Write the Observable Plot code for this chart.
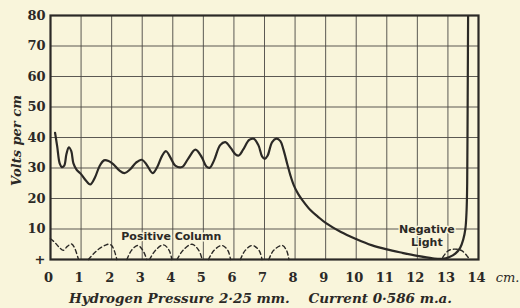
<!DOCTYPE html>
<html>
<head>
<meta charset="utf-8">
<script src="https://cdn.jsdelivr.net/npm/d3@7"></script>
<script src="https://cdn.jsdelivr.net/npm/@observablehq/plot@0.6"></script>
<style>
  html, body { margin: 0; padding: 0; background: #f9f5db; }
  #chart svg { display: block; }
</style>
</head>
<body>
<div id="chart"></div>
<script>
// Main curve: distance along tube (cm) vs volts per cm
const mainX = [0.15,0.22,0.30,0.37,0.45,0.52,0.60,0.68,0.75,0.85,1.00,1.15,1.30,1.45,1.60,1.75,1.90,2.05,2.25,2.42,2.60,2.80,2.99,3.15,3.34,3.50,3.65,3.78,3.92,4.08,4.30,4.50,4.74,4.95,5.10,5.21,5.35,5.55,5.72,5.90,6.05,6.16,6.30,6.50,6.65,6.80,6.92,7.01,7.10,7.25,7.39,7.52,7.62,7.74,7.85,7.96,8.10,8.25,8.50,8.75,9.00,9.50,10.0,10.5,11.0,11.5,12.0,12.5,12.8,13.05,13.25,13.40,13.50,13.57,13.61,13.63,13.64,13.65,13.66];
const mainV = [41.5,37.0,31.5,30.3,30.8,34.5,36.8,35.5,31.5,29.5,28.0,26.0,24.6,26.8,30.5,32.5,32.3,31.3,29.2,28.3,29.5,31.8,32.7,31.0,28.3,30.5,34.0,35.5,33.5,30.8,30.3,33.0,36.0,33.5,30.5,30.1,32.5,37.5,38.5,36.5,34.5,34.1,36.0,39.2,39.6,37.5,33.8,33.0,34.0,38.5,39.6,38.8,36.0,31.5,27.5,24.3,21.5,19.3,16.2,14.0,12.0,9.0,6.7,4.7,3.3,2.2,1.2,0.4,0.2,0.8,2.0,3.8,6.5,10.0,16.0,25.0,40.0,60.0,80.0];

// Dashed arches (striations of the positive column, and negative light)
const archId = [0,0,0,0,0,0,0,0, 1,1,1,1,1,1,1,1, 2,2,2,2,2, 3,3,3,3,3, 4,4,4,4,4, 5,5,5,5,5, 6,6,6,6,6, 7,7,7,7,7, 8,8,8,8,8];
const archX = [0.0,0.15,0.30,0.42,0.55,0.69,0.80,0.91, 1.24,1.40,1.60,1.80,1.90,2.00,2.10,2.17, 2.50,2.65,2.86,3.02,3.15, 3.24,3.45,3.70,3.88,3.97, 4.14,4.35,4.63,4.85,4.96, 5.17,5.35,5.61,5.80,5.89, 6.21,6.37,6.60,6.82,6.92, 7.14,7.30,7.58,7.72,7.80, 12.83,13.00,13.20,13.45,13.70];
const archV = [6.8,5.5,3.8,3.0,4.3,5.1,3.5,0.2, 0.0,1.8,3.6,4.7,5.0,4.6,2.5,0.0, 0.0,3.0,4.6,3.0,0.0, 0.0,3.2,4.8,3.0,0.0, 0.0,3.2,5.0,3.0,0.0, 0.0,3.0,4.6,3.0,0.0, 0.0,3.0,4.6,3.0,0.0, 0.0,3.0,4.6,3.0,0.0, 0.7,2.8,3.4,2.9,0.2];

const xTicks = [0,1,2,3,4,5,6,7,8,9,10,11,12,13,14];
const yTicks = [0,10,20,30,40,50,60,70,80];
const yTickLabels = ["+","10","20","30","40","50","60","70","80"];
const xGrid = [1,2,3,4,5,6,7,8,9,10,11,12,13];
const yGrid = [10,20,30,40,50,60,70];

const yLabel = "Volts per cm";
const xLabel = "Hydrogen Pressure 2·25 mm.    Current 0·586 m.a.";
const unitLabel = "cm.";
const annotations = [
  {x: 3.95, v: 7.5, text: "Positive Column"},
  {x: 12.31, v: 9.8, text: "Negative"},
  {x: 12.31, v: 5.5, text: "Light"}
];

const mainData = mainX.map((x, i) => ({x, v: mainV[i]}));
const archData = archX.map((x, i) => ({x, v: archV[i], id: archId[i]}));

const bg = "#f9f5db";
const ink = "#2b2926";
const serif = "'DejaVu Serif', serif";

const chart = Plot.plot({
  width: 520,
  height: 308,
  marginLeft: 50,
  marginRight: 42,
  marginTop: 15,
  marginBottom: 49,
  style: {background: bg, color: ink, fontFamily: serif},
  x: {domain: [0, 14]},
  y: {domain: [0, 80]},
  marks: [
    Plot.gridX(xGrid, {stroke: "#4a4844", strokeOpacity: 0.9, strokeWidth: 1}),
    Plot.gridY(yGrid, {stroke: "#4a4844", strokeOpacity: 0.9, strokeWidth: 1}),
    Plot.axisX(xTicks, {tickSize: 0, tickPadding: 13, dx: -2, label: null, fontSize: 13, fontWeight: "bold", fontFamily: serif, fill: ink}),
    Plot.axisY(yTicks, {tickSize: 0, tickPadding: 5, label: null, fontSize: 13, fontWeight: "bold", fontFamily: serif, fill: ink,
      tickFormat: d => yTickLabels[yTicks.indexOf(d)]}),
    Plot.line(archData, {x: "x", y: "v", z: "id", stroke: ink, strokeWidth: 1.4, strokeDasharray: "4,3", curve: "catmull-rom"}),
    Plot.line(mainData, {x: "x", y: "v", stroke: ink, strokeWidth: 2.2, curve: "catmull-rom", clip: true}),
    Plot.frame({stroke: ink, strokeWidth: 2.2}),
    Plot.text(annotations, {x: "x", y: "v", text: "text", fontFamily: "'DejaVu Sans', sans-serif", fontWeight: "bold", fontSize: 11, fill: ink, stroke: bg, strokeWidth: 3, paintOrder: "stroke"}),
    Plot.text([yLabel], {text: d => d, frameAnchor: "left", textAnchor: "middle", lineAnchor: "middle", dx: -34, dy: 3, rotate: -90, fontFamily: serif, fontStyle: "italic", fontWeight: "bold", fontSize: 13, fill: ink}),
    Plot.text([xLabel], {text: d => d, frameAnchor: "bottom", lineAnchor: "middle", dx: -4, dy: 39, fontFamily: serif, fontStyle: "italic", fontWeight: "bold", fontSize: 13.5, fill: ink}),
    Plot.text([unitLabel], {text: d => d, frameAnchor: "bottom-right", textAnchor: "middle", lineAnchor: "middle", dx: 29, dy: 18, fontFamily: serif, fontStyle: "italic", fontSize: 13, fill: ink})
  ]
});
document.getElementById("chart").appendChild(chart);
</script>
</body>
</html>
